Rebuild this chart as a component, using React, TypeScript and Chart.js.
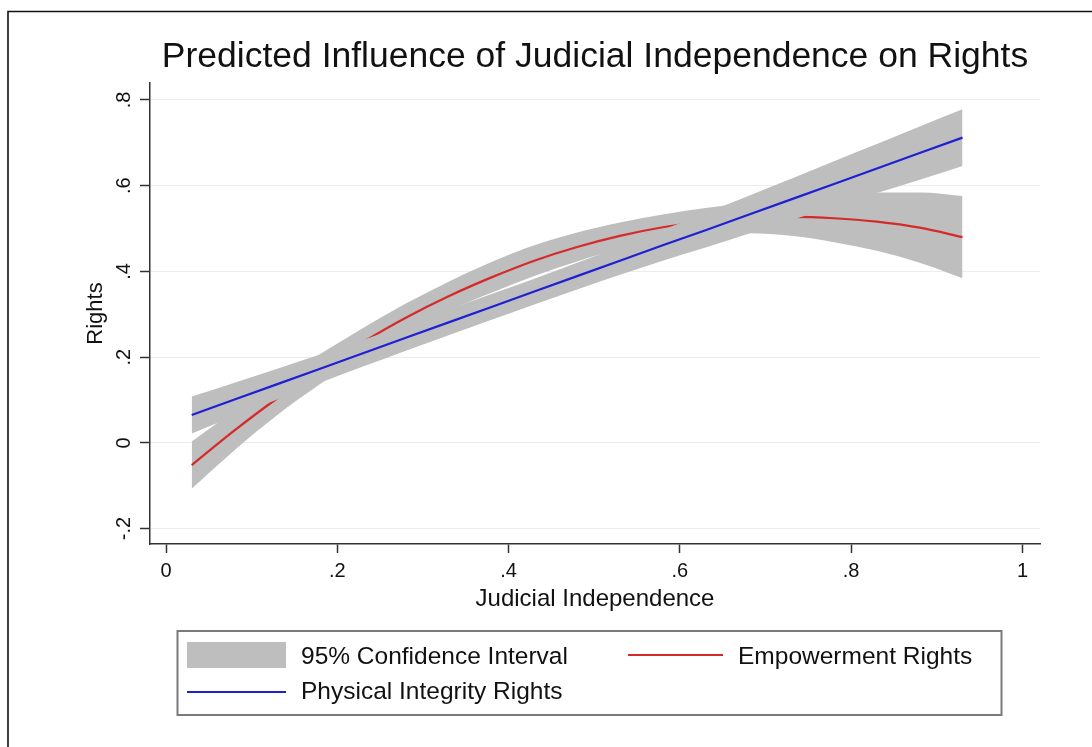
import React, { useEffect, useRef } from "react";
import { Chart, registerables } from "chart.js";

Chart.register(...registerables);

// ---- data ----
const xValues = [0.03, 0.08, 0.13, 0.18, 0.23, 0.28, 0.33, 0.38, 0.43, 0.48, 0.53, 0.58, 0.63, 0.68, 0.73, 0.78, 0.83, 0.88, 0.93];

const physicalFit = [0.065, 0.101, 0.137, 0.173, 0.209, 0.245, 0.281, 0.317, 0.353, 0.389, 0.425, 0.461, 0.496, 0.532, 0.568, 0.604, 0.640, 0.676, 0.712];
const physicalLower = [0.022, 0.062, 0.101, 0.140, 0.178, 0.215, 0.251, 0.287, 0.323, 0.358, 0.392, 0.425, 0.456, 0.488, 0.520, 0.551, 0.583, 0.614, 0.646];
const physicalUpper = [0.108, 0.140, 0.173, 0.206, 0.240, 0.275, 0.311, 0.347, 0.383, 0.420, 0.458, 0.497, 0.536, 0.576, 0.616, 0.657, 0.697, 0.738, 0.778];

const empowermentFit = [-0.052, 0.029, 0.104, 0.172, 0.235, 0.292, 0.342, 0.386, 0.425, 0.457, 0.483, 0.503, 0.517, 0.525, 0.527, 0.524, 0.516, 0.502, 0.480];
const empowermentLower = [-0.107, -0.017, 0.065, 0.137, 0.202, 0.259, 0.308, 0.350, 0.389, 0.423, 0.452, 0.473, 0.486, 0.489, 0.483, 0.468, 0.448, 0.420, 0.384];
const empowermentUpper = [0.003, 0.075, 0.143, 0.207, 0.268, 0.325, 0.376, 0.422, 0.461, 0.491, 0.514, 0.533, 0.548, 0.561, 0.571, 0.580, 0.584, 0.584, 0.576];

const xTickValues = [0, 0.2, 0.4, 0.6, 0.8, 1];
const xTickLabels = ["0", ".2", ".4", ".6", ".8", "1"];
const yTickValues = [-0.2, 0, 0.2, 0.4, 0.6, 0.8];
const yTickLabels = ["-.2", "0", ".2", ".4", ".6", ".8"];

const chartTitle = "Predicted Influence of Judicial Independence on Rights";
const xAxisTitle = "Judicial Independence";
const yAxisTitle = "Rights";
const ciLabel = "95% Confidence Interval";
const empowermentLabel = "Empowerment Rights";
const physicalLabel = "Physical Integrity Rights";

// ---- styles ----
const FONT = "'Liberation Sans', Arial, Helvetica, sans-serif";
const CI_GRAY = "rgb(190,190,190)";
const RED = "#d42a2a";
const BLUE = "#2020d2";
const AXIS = "#333333";
const TEXT = "#111111";

const toPoints = (ys: number[]) => xValues.map((x, i) => ({ x, y: ys[i] }));

const labelFor = (values: number[], labels: string[]) => (v: number | string) => {
  const n = Number(v);
  const i = values.findIndex((t) => Math.abs(t - n) < 1e-9);
  return i >= 0 ? labels[i] : "";
};

const framePlugin = {
  id: "frame",
  beforeDraw(chart: any) {
    const ctx = chart.ctx;
    ctx.save();
    ctx.strokeStyle = "#111";
    ctx.lineWidth = 1.6;
    ctx.beginPath();
    ctx.moveTo(8, 747);
    ctx.lineTo(8, 11.5);
    ctx.lineTo(1092, 11.5);
    ctx.stroke();
    ctx.restore();
  },
};

const legendPlugin = {
  id: "stataLegend",
  afterDraw(chart: any) {
    const ctx = chart.ctx;
    const ds = chart.data.datasets;
    ctx.save();
    ctx.strokeStyle = "#7a7a7a";
    ctx.lineWidth = 2;
    ctx.strokeRect(177.5, 631, 824, 84);
    ctx.fillStyle = ds[1].backgroundColor;
    ctx.fillRect(187, 642, 99, 26);
    ctx.lineWidth = 2;
    ctx.strokeStyle = ds[5].borderColor;
    ctx.beginPath();
    ctx.moveTo(187, 692);
    ctx.lineTo(286, 692);
    ctx.stroke();
    ctx.strokeStyle = ds[2].borderColor;
    ctx.beginPath();
    ctx.moveTo(628, 655);
    ctx.lineTo(723, 655);
    ctx.stroke();
    ctx.fillStyle = TEXT;
    ctx.font = `24.5px ${FONT}`;
    ctx.textBaseline = "middle";
    ctx.textAlign = "left";
    ctx.fillText(ciLabel, 301, 657);
    ctx.fillText(physicalLabel, 301, 692);
    ctx.fillText(empowermentLabel, 738, 657);
    ctx.restore();
  },
};

export default function App() {
  const ref = useRef<HTMLCanvasElement>(null);

  useEffect(() => {
    if (!ref.current) return;
    const hidden = {
      borderWidth: 0,
      borderColor: "rgba(0,0,0,0)",
      pointRadius: 0,
      pointHoverRadius: 0,
      cubicInterpolationMode: "monotone",
    };
    const chart = new Chart(ref.current, {
      type: "line",
      data: {
        datasets: [
          { label: "empLower", data: toPoints(empowermentLower), ...hidden, fill: false, order: 6 },
          { label: "empUpper", data: toPoints(empowermentUpper), ...hidden, fill: "-1", backgroundColor: CI_GRAY, order: 5 },
          { label: empowermentLabel, data: toPoints(empowermentFit), borderColor: RED, borderWidth: 2.2, pointRadius: 0, fill: false, order: 4, cubicInterpolationMode: "monotone" },
          { label: "physLower", data: toPoints(physicalLower), ...hidden, fill: false, order: 3 },
          { label: "physUpper", data: toPoints(physicalUpper), ...hidden, fill: "-1", backgroundColor: CI_GRAY, order: 2 },
          { label: physicalLabel, data: toPoints(physicalFit), borderColor: BLUE, borderWidth: 2.2, pointRadius: 0, fill: false, order: 1 },
        ] as any,
      },
      options: {
        responsive: false,
        maintainAspectRatio: false,
        animation: false,
        events: [],
        layout: { padding: { left: 70, right: 52, top: 11, bottom: 133 } },
        plugins: {
          legend: { display: false },
          tooltip: { enabled: false },
          title: {
            display: true,
            text: chartTitle,
            fullSize: false,
            color: TEXT,
            font: { family: FONT, size: 35.5, weight: "normal", lineHeight: 1.2 },
            padding: { top: 25.4, bottom: 4 },
          },
        },
        scales: {
          x: {
            type: "linear",
            min: -0.0187,
            max: 1.0205,
            afterBuildTicks: (scale: any) => {
              scale.ticks = xTickValues.map((v) => ({ value: v }));
            },
            afterFit: (scale: any) => {
              scale.height = 70;
            },
            ticks: {
              autoSkip: false,
              maxRotation: 0,
              minRotation: 0,
              padding: 6,
              color: TEXT,
              font: { family: FONT, size: 20 },
              callback: labelFor(xTickValues, xTickLabels),
            },
            grid: {
              drawOnChartArea: false,
              drawTicks: true,
              tickLength: 9,
              tickWidth: 1.5,
              tickColor: AXIS,
            },
            border: { display: true, color: AXIS, width: 1.5 },
            title: {
              display: true,
              text: xAxisTitle,
              color: TEXT,
              font: { family: FONT, size: 24, lineHeight: 1.2 },
              padding: { top: 0, bottom: 0 },
            },
          },
          y: {
            type: "linear",
            min: -0.236,
            max: 0.8395,
            afterBuildTicks: (scale: any) => {
              scale.ticks = yTickValues.map((v) => ({ value: v }));
            },
            afterFit: (scale: any) => {
              scale.width = 80;
            },
            ticks: {
              autoSkip: false,
              minRotation: 90,
              maxRotation: 90,
              crossAlign: "center",
              padding: 4,
              color: TEXT,
              font: { family: FONT, size: 20 },
              callback: labelFor(yTickValues, yTickLabels),
            },
            grid: {
              color: "#ececec",
              lineWidth: 1,
              drawTicks: true,
              tickLength: 10,
              tickWidth: 1.5,
              tickColor: AXIS,
            },
            border: { display: true, color: AXIS, width: 1.5 },
            title: {
              display: true,
              text: yAxisTitle,
              color: TEXT,
              font: { family: FONT, size: 22, lineHeight: 1.2 },
              padding: { top: 12.8, bottom: 0 },
            },
          },
        },
      },
      plugins: [framePlugin, legendPlugin],
    } as any);
    return () => chart.destroy();
  }, []);

  return (
    <div style={{ position: "absolute", left: 0, top: 0, width: 1092, height: 747, background: "#fff" }}>
      <canvas ref={ref} width={1092} height={747} style={{ display: "block", width: 1092, height: 747 }} />
    </div>
  );
}
